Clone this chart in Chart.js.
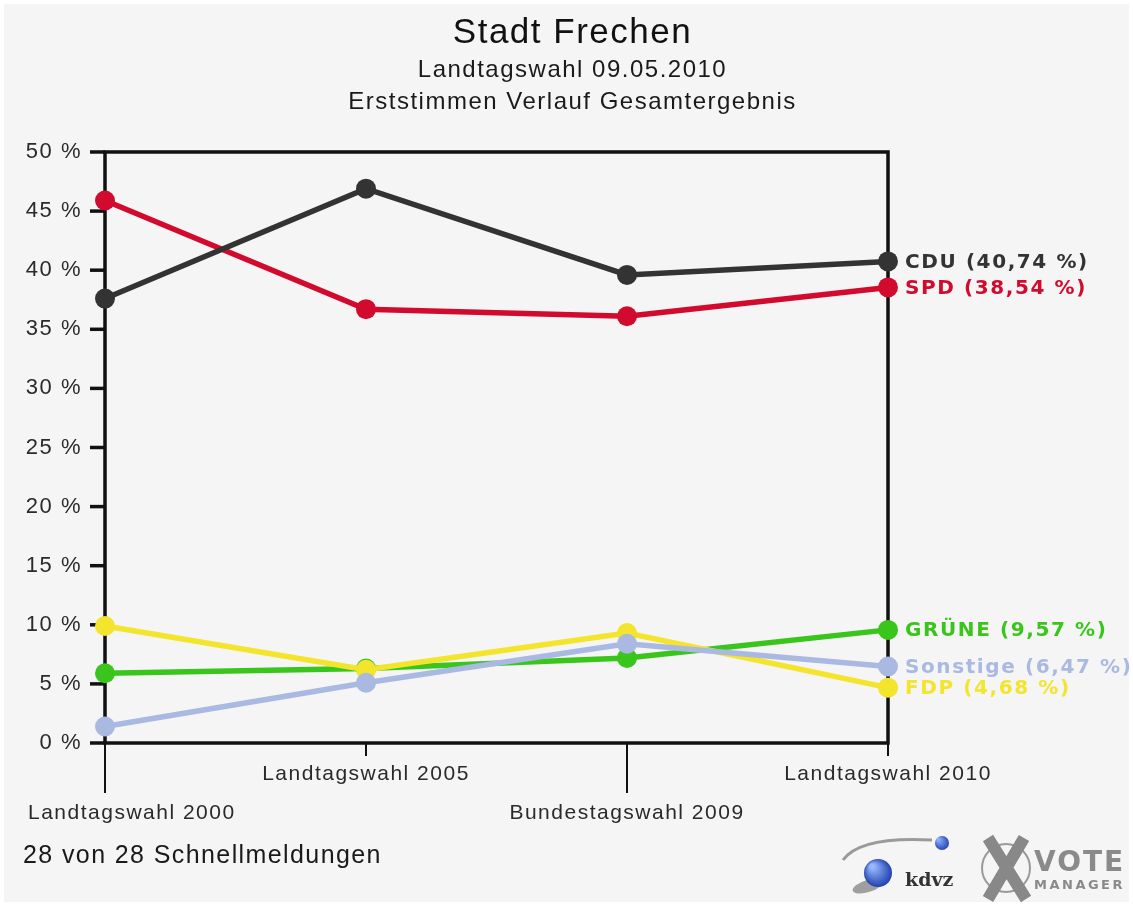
<!DOCTYPE html>
<html lang="de">
<head>
<meta charset="utf-8">
<title>Stadt Frechen - Erststimmen Verlauf</title>
<script src="https://cdn.jsdelivr.net/npm/chart.js@4.4.1/dist/chart.umd.min.js"></script>
<style>
  html, body { margin: 0; padding: 0; background: #ffffff; }
  #wahl { display: block; }
</style>
</head>
<body>
<canvas id="wahl" width="1133" height="906"></canvas>
<script>
// Werte (Prozent Erststimmen)
const wahlen = ['Landtagswahl 2000', 'Landtagswahl 2005', 'Bundestagswahl 2009', 'Landtagswahl 2010'];
const parteien = ['CDU', 'SPD', 'Sonstige', 'FDP', 'GRÜNE'];
const cdu = [37.6, 46.9, 39.6, 40.74];
const spd = [45.9, 36.7, 36.1, 38.54];
const sonstige = [1.4, 5.1, 8.4, 6.47];
const fdp = [9.9, 6.2, 9.3, 4.68];
const gruene = [5.9, 6.3, 7.2, 9.57];
const farben = ['#333333', '#d20a2e', '#a9b9e2', '#f3e42c', '#39c51c'];
const yMax = 50;
const yStep = 5;

const SCHRIFT = 'Liberation Sans';

// jede zweite Beschriftung eine Zeile tiefer
const labels = wahlen.map((w, i) => i % 2 === 0 ? ['', w] : [w]);

const reihen = [cdu, spd, sonstige, fdp, gruene];
const datasets = reihen.map((werte, i) => ({
    label: parteien[i],
    data: werte,
    borderColor: farben[i],
    backgroundColor: farben[i],
    pointBackgroundColor: farben[i],
    pointBorderWidth: 0,
    pointRadius: 10,
    borderWidth: 5.5,
    tension: 0,
    fill: false
}));

function fmt(v) {
    return v.toFixed(2).replace('.', ',');
}

const rahmen = {
    id: 'rahmen',
    beforeUpdate(chart) {
        chart.ctx.letterSpacing = '1.5px';
    },
    beforeDraw(chart) {
        const ctx = chart.ctx;
        ctx.save();
        ctx.fillStyle = '#ffffff';
        ctx.fillRect(0, 0, chart.width, chart.height);
        ctx.fillStyle = '#f5f5f5';
        ctx.fillRect(4, 4, chart.width - 8, chart.height - 8);
        ctx.restore();
        ctx.letterSpacing = '1.5px';

        // erste Beschriftung nicht über den linken Rand laufen lassen
        const xs = chart.scales.x;
        const items = xs.getLabelItems();
        if (items.length) {
            const it = items[0];
            ctx.save();
            ctx.font = it.font.string;
            const lines = Array.isArray(it.label) ? it.label : [it.label];
            const w = Math.max(...lines.map(l => ctx.measureText(l).width));
            ctx.restore();
            if (it.options.translation[0] - w / 2 < 28) {
                it.options.translation[0] = 28 + w / 2;
            }
        }
    },
    beforeDatasetsDraw(chart) {
        const ctx = chart.ctx;
        const a = chart.chartArea;
        const ys = chart.scales.y;
        const xs = chart.scales.x;
        ctx.save();
        ctx.strokeStyle = '#111111';
        ctx.lineWidth = 3.5;
        ctx.strokeRect(a.left, a.top, a.right - a.left, a.bottom - a.top);
        // Striche an der y-Achse
        ys.ticks.forEach(t => {
            const y = ys.getPixelForValue(t.value);
            ctx.beginPath();
            ctx.moveTo(a.left - 15, y);
            ctx.lineTo(a.left, y);
            ctx.stroke();
        });
        // Striche an der x-Achse, abwechselnd lang und kurz
        ctx.lineWidth = 2;
        xs.ticks.forEach((t, i) => {
            const x = xs.getPixelForTick(i);
            ctx.beginPath();
            ctx.moveTo(x, a.bottom);
            ctx.lineTo(x, a.bottom + (i % 2 === 0 ? 50 : 13));
            ctx.stroke();
        });
        ctx.restore();
    },
    afterDatasetsDraw(chart) {
        const ctx = chart.ctx;
        ctx.save();
        ctx.font = 'bold 20px "DejaVu Sans"';
        ctx.letterSpacing = '1.6px';
        ctx.textBaseline = 'middle';
        ctx.textAlign = 'left';
        chart.data.datasets.forEach((ds, i) => {
            const meta = chart.getDatasetMeta(i);
            const p = meta.data[meta.data.length - 1];
            const v = ds.data[ds.data.length - 1];
            ctx.fillStyle = farben[i];
            ctx.fillText(ds.label + ' (' + fmt(v) + ' %)', p.x + 17, p.y + 1);
        });
        ctx.restore();
    },
    afterDraw(chart) {
        const ctx = chart.ctx;
        ctx.save();
        ctx.letterSpacing = '1.4px';
        ctx.fillStyle = '#1a1a1a';
        ctx.font = '25px "' + SCHRIFT + '"';
        ctx.textBaseline = 'middle';
        ctx.fillText('28 von 28 Schnellmeldungen', 23, 856);

        // kdvz / VOTE MANAGER Logo
        ctx.letterSpacing = '0px';
        ctx.strokeStyle = '#9a9a9a';
        ctx.lineWidth = 3;
        ctx.beginPath();
        ctx.moveTo(843, 860);
        ctx.quadraticCurveTo(860, 836, 932, 840);
        ctx.stroke();
        let g = ctx.createRadialGradient(938, 839, 1, 942, 843, 8);
        g.addColorStop(0, '#8fb0ff');
        g.addColorStop(1, '#1c3fae');
        ctx.fillStyle = g;
        ctx.beginPath();
        ctx.arc(942, 843, 7, 0, Math.PI * 2);
        ctx.fill();
        ctx.fillStyle = 'rgba(0,0,0,0.35)';
        ctx.beginPath();
        ctx.ellipse(868, 886, 16, 6, -0.3, 0, Math.PI * 2);
        ctx.fill();
        g = ctx.createRadialGradient(872, 866, 2, 878, 873, 15);
        g.addColorStop(0, '#9ab8ff');
        g.addColorStop(1, '#1a3caa');
        ctx.fillStyle = g;
        ctx.beginPath();
        ctx.arc(878, 873, 14, 0, Math.PI * 2);
        ctx.fill();
        ctx.fillStyle = '#333333';
        ctx.font = 'bold 19px "DejaVu Serif"';
        ctx.textBaseline = 'alphabetic';
        ctx.fillText('kdvz', 905, 886);

        ctx.strokeStyle = '#9a9a9a';
        ctx.lineWidth = 2;
        ctx.beginPath();
        ctx.arc(1006, 868, 24, 0, Math.PI * 2);
        ctx.stroke();
        ctx.strokeStyle = '#888888';
        ctx.lineWidth = 12;
        ctx.beginPath();
        ctx.moveTo(988, 838);
        ctx.lineTo(1026, 899);
        ctx.moveTo(1024, 838);
        ctx.lineTo(988, 899);
        ctx.stroke();

        ctx.fillStyle = '#8a8a8a';
        ctx.font = 'bold 28px "DejaVu Sans"';
        ctx.letterSpacing = '2px';
        ctx.fillText('VOTE', 1034, 871);
        ctx.font = 'bold 13px "DejaVu Sans"';
        ctx.letterSpacing = '2.5px';
        ctx.fillText('MANAGER', 1034, 889);
        ctx.restore();
    }
};

const canvas = document.getElementById('wahl');
new Chart(canvas, {
    type: 'line',
    data: { labels: labels, datasets: datasets },
    plugins: [rahmen],
    options: {
        responsive: false,
        animation: false,
        layout: { padding: { left: 12, right: 0, top: 0, bottom: 0 } },
        plugins: {
            legend: { display: false },
            tooltip: { enabled: false },
            title: {
                display: true,
                text: 'Stadt Frechen',
                color: '#111111',
                font: { family: SCHRIFT, size: 35, weight: 'normal', lineHeight: 1.2 },
                padding: { top: 12, bottom: 0 }
            },
            subtitle: {
                display: true,
                text: ['Landtagswahl 09.05.2010', 'Erststimmen Verlauf Gesamtergebnis'],
                color: '#1a1a1a',
                font: { family: SCHRIFT, size: 24, weight: 'normal', lineHeight: 1.333 },
                padding: { top: 0, bottom: 34 }
            }
        },
        scales: {
            x: {
                type: 'category',
                offset: false,
                grid: { display: false, drawTicks: false },
                border: { display: false },
                ticks: {
                    color: '#2a2a2a',
                    font: { family: SCHRIFT, size: 21, lineHeight: 1.857 },
                    padding: 12,
                    maxRotation: 0,
                    autoSkip: false
                },
                afterFit(s) {
                    s.height = 163;
                    s.paddingLeft = 0;
                    s.paddingRight = 0;
                }
            },
            y: {
                min: 0,
                max: yMax,
                grid: { display: false, drawTicks: false },
                border: { display: false },
                ticks: {
                    stepSize: yStep,
                    color: '#2a2a2a',
                    font: { family: SCHRIFT, size: 22 },
                    padding: 23,
                    callback: v => v + ' %'
                },
                afterFit(s) { s.width = 93; }
            },
            rechts: {
                position: 'right',
                display: true,
                grid: { display: false, drawTicks: false },
                border: { display: false },
                ticks: { display: false },
                afterFit(s) { s.width = 245; }
            }
        }
    }
});
</script>
</body>
</html>
